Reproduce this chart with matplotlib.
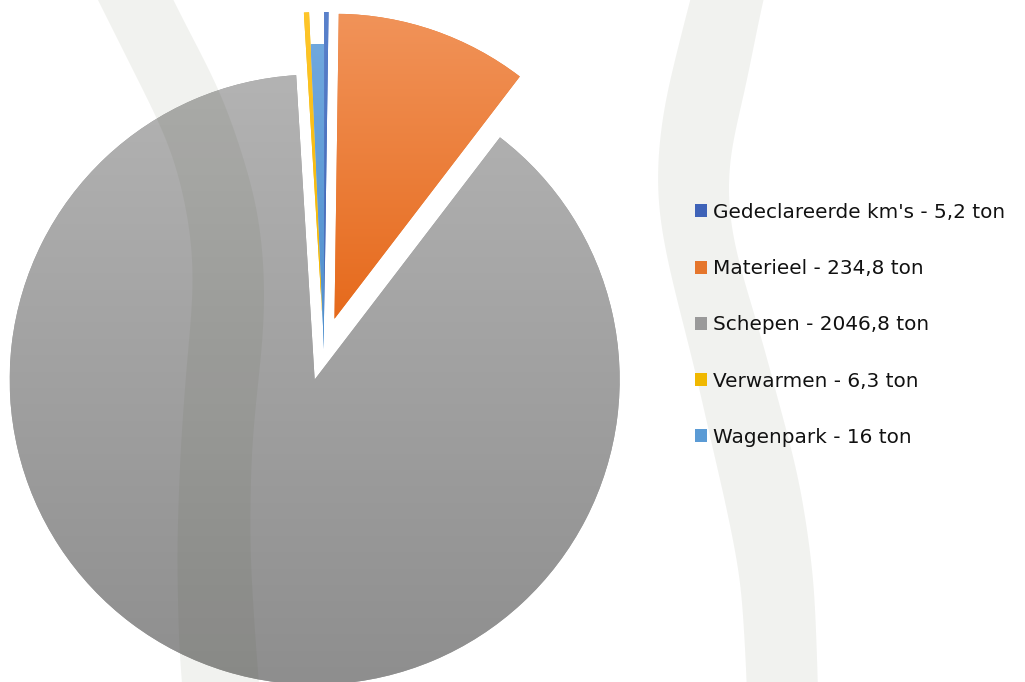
import numpy as np
import matplotlib.pyplot as plt
from matplotlib.colors import LinearSegmentedColormap
from matplotlib.patches import Patch

# -------------------------------
# Data
# -------------------------------
labels = ["Gedeclareerde km's - 5,2 ton", "Materieel - 234,8 ton", "Schepen - 2046,8 ton",
          "Verwarmen - 6,3 ton", "Wagenpark - 16 ton"]
values = [5.2, 234.8, 2046.8, 6.3, 16]
explode_px = [32, 32, 32, 32, 0]

# gradient colours (top, bottom) and legend colours
grad_top = ["#5a82cc", "#f19359", "#b3b3b3", "#ffc62a", "#70a8de"]
grad_bot = ["#3a62b2", "#e66a1c", "#8e8e8e", "#f0b400", "#4e8ecd"]
legend_colors = ["#3f63b8", "#e5762c", "#9a9a9a", "#f0b800", "#5b9bd5"]

W, H = 1025, 682
CX, CY, R = 324, H - 349, 305

# -------------------------------
# Figure
# -------------------------------
fig = plt.figure(figsize=(W / 100, H / 100), dpi=100)
ax = fig.add_axes([0, 0, 1, 1])

# explode is in data units here (pixels)
wedges, _ = ax.pie(values, explode=explode_px, colors=legend_colors,
                   startangle=90, counterclock=False, radius=R, center=(CX, CY),
                   frame=True, wedgeprops=dict(linewidth=0))

for w, c0, c1 in zip(wedges, grad_top, grad_bot):
    bb = w.get_path().get_extents(w.get_transform() - ax.transData)
    cmap = LinearSegmentedColormap.from_list("g", [c1, c0])
    grad = np.linspace(0, 1, 256).reshape(-1, 1)
    im = ax.imshow(grad, cmap=cmap, extent=[bb.x0, bb.x1, bb.y0, bb.y1],
                   origin="lower", aspect="auto", zorder=2, interpolation="bicubic")
    im.set_clip_path(w)

# -------------------------------
# Decorative background bands (overlay)
# -------------------------------
def smooth_edge(pts, ys, k=61, passes=2):
    py, px = zip(*pts)
    x = np.interp(ys, py, px)
    for _ in range(passes):
        pad = np.pad(x, k // 2, mode="edge")
        x = np.convolve(pad, np.ones(k) / k, mode="valid")
    return x


def band(left_pts, right_pts):
    ys = np.arange(-80, H + 81, 1.0)
    xl = smooth_edge(left_pts, ys)
    xr = smooth_edge(right_pts, ys)
    ax.fill_betweenx(H - ys, xl, xr, color=(61 / 255, 74 / 255, 33 / 255),
                     alpha=0.072, linewidth=0, zorder=5)

band([(-80, 58), (0, 98), (60, 128), (120, 158), (150, 172), (200, 185), (250, 193), (300, 193),
      (350, 188), (400, 184), (460, 180), (550, 177), (650, 179), (682, 182), (762, 188)],
     [(-80, 135), (0, 173), (33, 190), (90, 220), (140, 238), (200, 256), (250, 263), (300, 265),
      (350, 262), (400, 256), (460, 251), (550, 250), (650, 256), (682, 259), (762, 265)])
band([(-80, 712), (0, 690), (100, 665), (150, 658), (200, 657), (250, 665), (300, 677), (350, 690),
      (400, 702), (450, 713), (500, 725), (580, 741), (682, 747), (762, 748)],
     [(-80, 783), (0, 763), (100, 743), (150, 730), (200, 727), (250, 735), (300, 750), (350, 765),
      (400, 778), (450, 792), (500, 803), (580, 814), (682, 818), (762, 819)])

ax.set_xlim(0, W)
ax.set_ylim(0, H)
ax.set_aspect("equal")
ax.axis("off")

# -------------------------------
# Legend
# -------------------------------
handles = [Patch(facecolor=c, edgecolor="none") for c in legend_colors]
leg = fig.legend(handles, labels, loc="upper left", bbox_to_anchor=(695 / W, 1 - 203 / H),
                 frameon=False, fontsize=14.4, handlelength=0.62, handleheight=0.62,
                 handletextpad=0.3, labelspacing=1.86, borderaxespad=0, borderpad=0)
for t in leg.get_texts():
    t.set_color("#111111")

fig.savefig("out.png", dpi=100)
